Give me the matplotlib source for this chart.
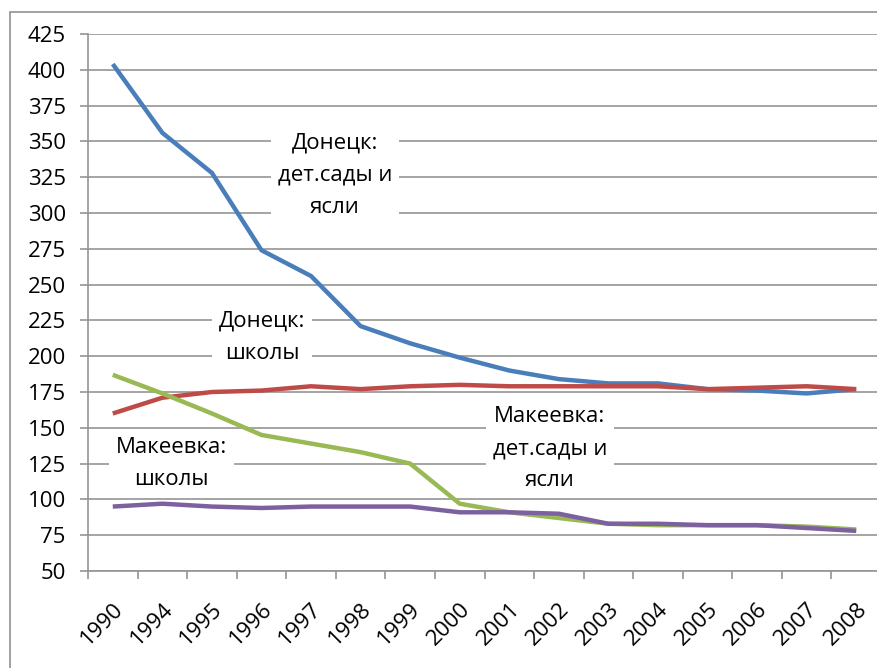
import matplotlib
matplotlib.use("Agg")
import matplotlib.pyplot as plt
from matplotlib.patches import Rectangle
import numpy as np

plt.rcParams['font.family'] = ['Open Sans', 'DejaVu Sans']

years = ["1990", "1994", "1995", "1996", "1997", "1998", "1999", "2000",
         "2001", "2002", "2003", "2004", "2005", "2006", "2007", "2008"]
donetsk_kindergartens = [404, 356, 328, 274, 256, 221, 209, 199,
                         190, 184, 181, 181, 177, 176, 174, 177]
donetsk_schools = [160, 171, 175, 176, 179, 177, 179, 180,
                   179, 179, 179, 179, 177, 178, 179, 177]
makeevka_kindergartens = [187, 174, 160, 145, 139, 133, 125, 97,
                          91, 87, 83, 82, 82, 82, 81, 79]
makeevka_schools = [95, 97, 95, 94, 95, 95, 95, 91,
                    91, 90, 83, 83, 82, 82, 80, 78]
y_ticks = [50, 75, 100, 125, 150, 175, 200, 225, 250, 275, 300, 325, 350, 375, 400, 425]

W, H = 877, 668
fig = plt.figure(figsize=(W / 100, H / 100), dpi=100)
fig.patch.set_facecolor('white')

# outer chart frame
fig.add_artist(Rectangle((10 / W, -0.1), 1.2, (H - 12) / H + 0.1, transform=fig.transFigure,
                         fill=False, edgecolor='#9a9a9a', linewidth=1.3))

left_px, right_px, top_px, bot_px = 88, 881, 34, 571
ax = fig.add_axes([left_px / W, (H - bot_px) / H, (right_px - left_px) / W, (bot_px - top_px) / H])
ax.set_facecolor('none')

x = np.arange(len(years))
colors = ['#4A7EBB', '#BE4B48', '#98B954', '#7D60A0']
series = [donetsk_kindergartens, donetsk_schools, makeevka_kindergartens, makeevka_schools]
for s, c in zip(series, colors):
    ax.plot(x, s, color=c, linewidth=3.2, zorder=3, solid_joinstyle='round', solid_capstyle='butt')

ax.set_xlim(-0.5, len(years) - 0.5)
ax.set_ylim(50, 425)
ax.set_yticks(y_ticks)
ax.set_yticklabels([str(v) for v in y_ticks])
ax.yaxis.grid(True, color='#959595', linewidth=1.2, zorder=0)
ax.set_axisbelow(True)

ax.set_xticks(x)
ax.set_xticklabels(years, rotation=45, ha='right', va='top', rotation_mode='anchor')
ax.set_xticks(np.arange(-0.5, len(years), 1.0), minor=True)
ax.tick_params(axis='x', which='major', length=0, pad=20, labelsize=16)
ax.tick_params(axis='x', which='minor', length=6, width=1.2, color='#959595')
ax.tick_params(axis='y', length=6, width=1.2, color='#959595', pad=10, labelsize=16)

for sp in ['top', 'right']:
    ax.spines[sp].set_visible(False)
for sp in ['left', 'bottom']:
    ax.spines[sp].set_color('#959595')
    ax.spines[sp].set_linewidth(1.2)

bbox = dict(facecolor='white', edgecolor='none', pad=5)
kw = dict(ha='center', va='center', fontsize=16, linespacing=1.7, bbox=bbox, zorder=2)
ax.text(4.48, 326.5, "Донецк:\nдет.сады и\nясли", **kw)
ax.text(3.01, 213, "Донецк:\nшколы", **kw)
ax.text(8.82, 135.5, "Макеевка:\nдет.сады и\nясли", **kw)
ax.text(1.19, 125, "Макеевка:\nшколы", **kw)

fig.savefig('out.png', dpi=100, facecolor='white')
